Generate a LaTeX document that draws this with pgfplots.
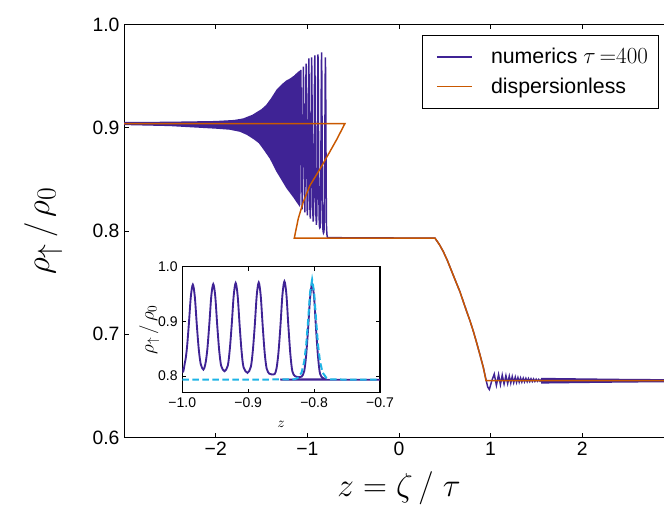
\documentclass[border=0pt]{standalone}
\usepackage{fontspec}
\setmainfont{Liberation Sans}
\usepackage{pgfplots}
\usepackage{pgfplotstable}
\pgfplotsset{compat=1.18}
\pgfplotsset{legend image code/.code={\path (0pt,0pt); \draw[#1, line width=1.2pt] (4.5pt,0pt) -- (30.5pt,0pt);}}

\definecolor{numcol}{RGB}{63,35,149}
\definecolor{dlcol}{RGB}{201,88,0}
\definecolor{solcol}{RGB}{30,180,230}

% envelope of the unresolved oscillations, left part (outline of the band)
\pgfplotstableread{
z y
-3.000 0.9055
-2.500 0.9058
-2.000 0.9065
-1.800 0.9075
-1.700 0.9090
-1.600 0.9125
-1.500 0.9180
-1.450 0.9220
-1.400 0.9280
-1.335 0.9370
-1.280 0.9420
-1.226 0.9460
-1.200 0.9470
-1.150 0.9500
-1.100 0.9540
-1.080 0.9555
-1.080 0.8230
-1.100 0.8255
-1.150 0.8320
-1.200 0.8380
-1.226 0.8410
-1.280 0.8490
-1.335 0.8570
-1.410 0.8700
-1.480 0.8790
-1.530 0.8850
-1.590 0.8890
-1.660 0.8930
-1.736 0.8960
-1.850 0.8980
-2.000 0.8990
-2.500 0.9015
-3.000 0.9025
}\leftband

% envelope of the unresolved oscillations, right part
\pgfplotstableread{
z y
1.55 0.6578
2.00 0.6573
2.50 0.6568
3.00 0.6565
3.00 0.6535
2.50 0.6532
2.00 0.6527
1.55 0.6522
}\rightband

% numerics tau = 400
\pgfplotstableread{
z y
-1.230 0.846
-1.218 0.944
-1.207 0.844
-1.196 0.946
-1.184 0.840
-1.173 0.948
-1.161 0.836
-1.149 0.950
-1.136 0.832
-1.124 0.952
-1.111 0.828
-1.098 0.954
-1.084 0.825
-1.071 0.956
-1.057 0.821
-1.043 0.959
-1.028 0.818
-1.014 0.962
-1.001 0.815
-0.996 0.825
-0.993 0.851
-0.990 0.896
-0.987 0.946
-0.984 0.967
-0.981 0.945
-0.978 0.894
-0.975 0.849
-0.972 0.822
-0.968 0.812
-0.965 0.822
-0.962 0.849
-0.959 0.895
-0.956 0.946
-0.953 0.968
-0.950 0.946
-0.947 0.893
-0.944 0.847
-0.941 0.819
-0.936 0.809
-0.931 0.819
-0.928 0.848
-0.925 0.894
-0.922 0.947
-0.919 0.970
-0.916 0.947
-0.913 0.893
-0.910 0.845
-0.907 0.816
-0.901 0.806
-0.896 0.817
-0.893 0.846
-0.890 0.893
-0.887 0.948
-0.884 0.971
-0.881 0.947
-0.878 0.892
-0.875 0.843
-0.872 0.814
-0.868 0.8045
-0.864 0.803
-0.860 0.8035
-0.857 0.814
-0.854 0.844
-0.851 0.893
-0.848 0.949
-0.845 0.973
-0.842 0.949
-0.839 0.891
-0.836 0.840
-0.833 0.809
-0.829 0.800
-0.824 0.798
-0.819 0.799
-0.815 0.809
-0.812 0.839
-0.809 0.888
-0.806 0.944
-0.803 0.968
-0.800 0.944
-0.797 0.886
-0.794 0.835
-0.791 0.8045
-0.787 0.797
-0.783 0.7945
-0.778 0.7935
0.393 0.7930
0.440 0.7870
0.484 0.7800
0.530 0.7710
0.575 0.7610
0.620 0.7510
0.666 0.7410
0.700 0.7320
0.739 0.7220
0.775 0.7130
0.811 0.7030
0.850 0.6910
0.884 0.6800
0.920 0.6680
0.950 0.6560
0.968 0.6490
0.986 0.6465
1.013 0.6550
1.040 0.6615
1.063 0.6505
1.087 0.6610
1.107 0.6512
1.127 0.6605
1.147 0.6518
1.167 0.6600
1.186 0.6522
1.204 0.6595
1.220 0.6527
1.236 0.6590
1.252 0.6530
1.269 0.6585
1.283 0.6533
1.298 0.6580
1.312 0.6535
1.327 0.6577
1.341 0.6537
1.356 0.6575
1.370 0.6539
1.385 0.6573
1.399 0.6540
1.413 0.6571
1.427 0.6541
1.441 0.6569
1.455 0.6542
1.469 0.6567
1.483 0.6543
1.497 0.6565
1.511 0.6544
1.525 0.6563
1.539 0.6545
1.553 0.6562
1.567 0.6546
1.600 0.6553
3.000 0.6552
}\numerics

% dispersionless solution
\pgfplotstableread{
z y
-3.000 0.9040
-0.590 0.9040
-0.680 0.8885
-0.753 0.8770
-0.862 0.8600
-0.972 0.8440
-1.045 0.8280
-1.099 0.8120
-1.143 0.7930
0.393 0.7930
0.440 0.7870
0.484 0.7800
0.530 0.7710
0.575 0.7610
0.620 0.7510
0.666 0.7410
0.700 0.7320
0.739 0.7220
0.775 0.7130
0.811 0.7030
0.850 0.6910
0.884 0.6800
0.920 0.6680
0.950 0.6550
3.000 0.6550
}\displess

% soliton (inset, dashed)
\pgfplotstableread{
z y
-1.000 0.7935
-0.831 0.7940
-0.825 0.7964
-0.819 0.8063
-0.815 0.8263
-0.812 0.8565
-0.809 0.9030
-0.806 0.9535
-0.803 0.9760
-0.800 0.9535
-0.797 0.9030
-0.794 0.8565
-0.791 0.8263
-0.787 0.8063
-0.781 0.7964
-0.775 0.7940
-0.700 0.7935
}\soliton

\begin{document}
\begin{tikzpicture}
\begin{axis}[
  at={(0pt,0pt)}, anchor=south west,
  scale only axis,
  width=412.4pt, height=309.9pt,
  xmin=-3, xmax=3, ymin=0.6, ymax=1.0,
  xtick={-2,-1,0,1,2},
  xticklabels={−2,−1,0,1,2},
  ytick={0.6,0.7,0.8,0.9,1.0},
  yticklabels={0.6,0.7,0.8,0.9,1.0},
  tick align=inside,
  major tick length=3.75pt,
  every tick/.style={black, line width=0.6pt},
  axis line style={line width=0.8pt},
  tick label style={font=\fontsize{14.5}{17}\selectfont},
  xlabel={$z\;{=}\;\zeta\,/\;\tau$},
  ylabel={$\rho_{\uparrow}\,/\,\rho_{0}$},
  xlabel style={font=\fontsize{25}{30}\selectfont, at={(axis description cs:0.5,-0.1425)}, anchor=base},
  ylabel style={font=\fontsize{30}{36}\selectfont, at={(axis description cs:-0.147,0.5)}, anchor=center},
  legend style={at={(1,1)}, anchor=north east, xshift=-11.25pt, yshift=-8pt,
    font=\fontsize{16}{19}\selectfont,
    inner xsep=6pt, inner ysep=7.6pt, column sep=12pt, row sep=5.25pt},
  legend cell align=left,
]
\addplot[fill=numcol, draw=none, forget plot] table {\leftband};
\addplot[fill=numcol, draw=none, forget plot] table {\rightband};
\addplot[color=numcol, line width=1.1pt] table {\numerics};
\addlegendentry{numerics $\tau\,{=}400$}
\addplot[color=dlcol, line width=1.1pt] table {\displess};
\addlegendentry{dispersionless}
\end{axis}

\begin{axis}[
  at={(43.65pt,33.7pt)}, anchor=south west,
  scale only axis,
  width=148.3pt, height=94.5pt,
  xmin=-1, xmax=-0.7, ymin=0.77, ymax=1.0,
  xtick={-1,-0.9,-0.8,-0.7},
  xticklabels={−1.0,−0.9,−0.8,−0.7},
  ytick={0.8,0.9,1.0},
  yticklabels={0.8,0.9,1.0},
  tick align=inside,
  major tick length=3pt,
  every tick/.style={black, line width=0.6pt},
  axis line style={line width=0.8pt},
  axis background/.style={fill=white},
  tick label style={font=\fontsize{10.5}{12}\selectfont},
  xlabel={$z$},
  ylabel={$\rho_{\uparrow}\,/\,\rho_{0}$},
  xlabel style={font=\fontsize{11}{13}\selectfont, at={(axis description cs:0.5,-0.254)}, anchor=center},
  ylabel style={font=\fontsize{14}{16}\selectfont, at={(axis description cs:-0.167,0.5)}, anchor=center},
]
\addplot[color=numcol, line width=1.4pt, smooth] table {\numerics};
\addplot[color=solcol, line width=1.5pt, dash pattern=on 5pt off 2.5pt] table {\soliton};
\end{axis}

\pgfresetboundingbox
\useasboundingbox (-93.1pt,-52pt) rectangle (405pt,328.2pt);
\end{tikzpicture}
\end{document}
